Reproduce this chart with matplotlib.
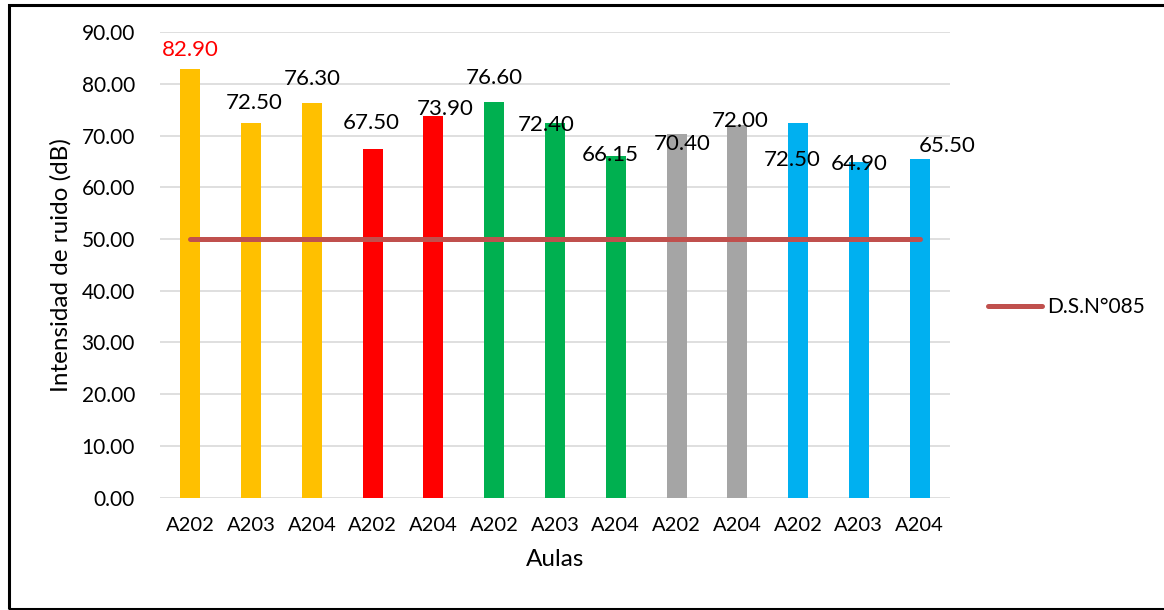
import matplotlib.pyplot as plt
import matplotlib.patches as patches
from matplotlib.ticker import FormatStrFormatter

plt.rcParams['font.family'] = ['Lato', 'DejaVu Sans']

# mediciones por aula
aulas = ['A202', 'A203', 'A204', 'A202', 'A204', 'A202', 'A203',
         'A204', 'A202', 'A204', 'A202', 'A203', 'A204']
ruido = [82.90, 72.50, 76.30, 67.50, 73.90, 76.60, 72.40,
         66.15, 70.40, 72.00, 72.50, 64.90, 65.50]
colores = ['#FFC000'] * 3 + ['#FF0000'] * 2 + ['#00B050'] * 3 + \
          ['#A5A5A5'] * 2 + ['#00B0F0'] * 3
limite = 50.0
limite_nombre = 'D.S.N°085'

# desplazamiento de cada etiqueta (pixeles) respecto al tope de la barra
etiq_dx = [0, 3.5, 0, -1, 11.5, 0, -9, -6, 6, 3, -6, 0, 28]
etiq_dy = [20.6, 21, 26, 27, 8.3, 25.5, 0, 2.5, -9, 6.3, -35.7, 0, 14.7]

fs = 15
fig = plt.figure(figsize=(11.64, 6.10), dpi=100)
ax = fig.add_axes([160 / 1164, 1 - 497.5 / 610, 790 / 1164, 465.2 / 610])

x = list(range(len(aulas)))
ax.bar(x, ruido, width=0.33, color=colores, zorder=2)
ax.plot(x, [limite] * len(x), color='#C0504D', lw=3.6,
        solid_capstyle='round', zorder=3, label=limite_nombre)

for i, v in enumerate(ruido):
    ax.annotate('%.2f' % v, (i, v), xytext=(etiq_dx[i], etiq_dy[i] - 7.5),
                textcoords='offset pixels', ha='center', va='baseline',
                fontsize=16, color='#FF0000' if i == 0 else 'black',
                zorder=4)

ax.set_xlim(-0.5, len(aulas) - 0.5)
ax.set_ylim(0, 90)
ax.set_yticks(range(0, 91, 10))
ax.yaxis.set_major_formatter(FormatStrFormatter('%.2f'))
ax.set_xticks(x)
ax.set_xticklabels(aulas)
ax.tick_params(axis='y', length=0, pad=18, labelsize=fs)
ax.tick_params(axis='x', length=0, pad=14, labelsize=fs - 0.5)
ax.grid(axis='y', color='#D9D9D9', lw=1.2, zorder=0)
ax.set_axisbelow(True)
for s in ax.spines.values():
    s.set_visible(False)

ax.set_ylabel('Intensidad de ruido (dB)', fontsize=17.5, labelpad=7)
ax.set_xlabel('Aulas', fontsize=17.5, labelpad=11)

ax.legend(loc='center left', bbox_to_anchor=(988 / 1164, 1 - 307 / 610),
          bbox_transform=fig.transFigure, frameon=False, fontsize=fs,
          handlelength=2.6, handletextpad=0.25, borderpad=0,
          borderaxespad=0)

# marco exterior
marco = patches.Rectangle((9 / 1164, 1 - 608.5 / 610), 1.1, (604 / 610),
                          transform=fig.transFigure, fill=False,
                          edgecolor='black', lw=2.2, clip_on=False)
fig.add_artist(marco)

fig.savefig('out.png', dpi=100)
